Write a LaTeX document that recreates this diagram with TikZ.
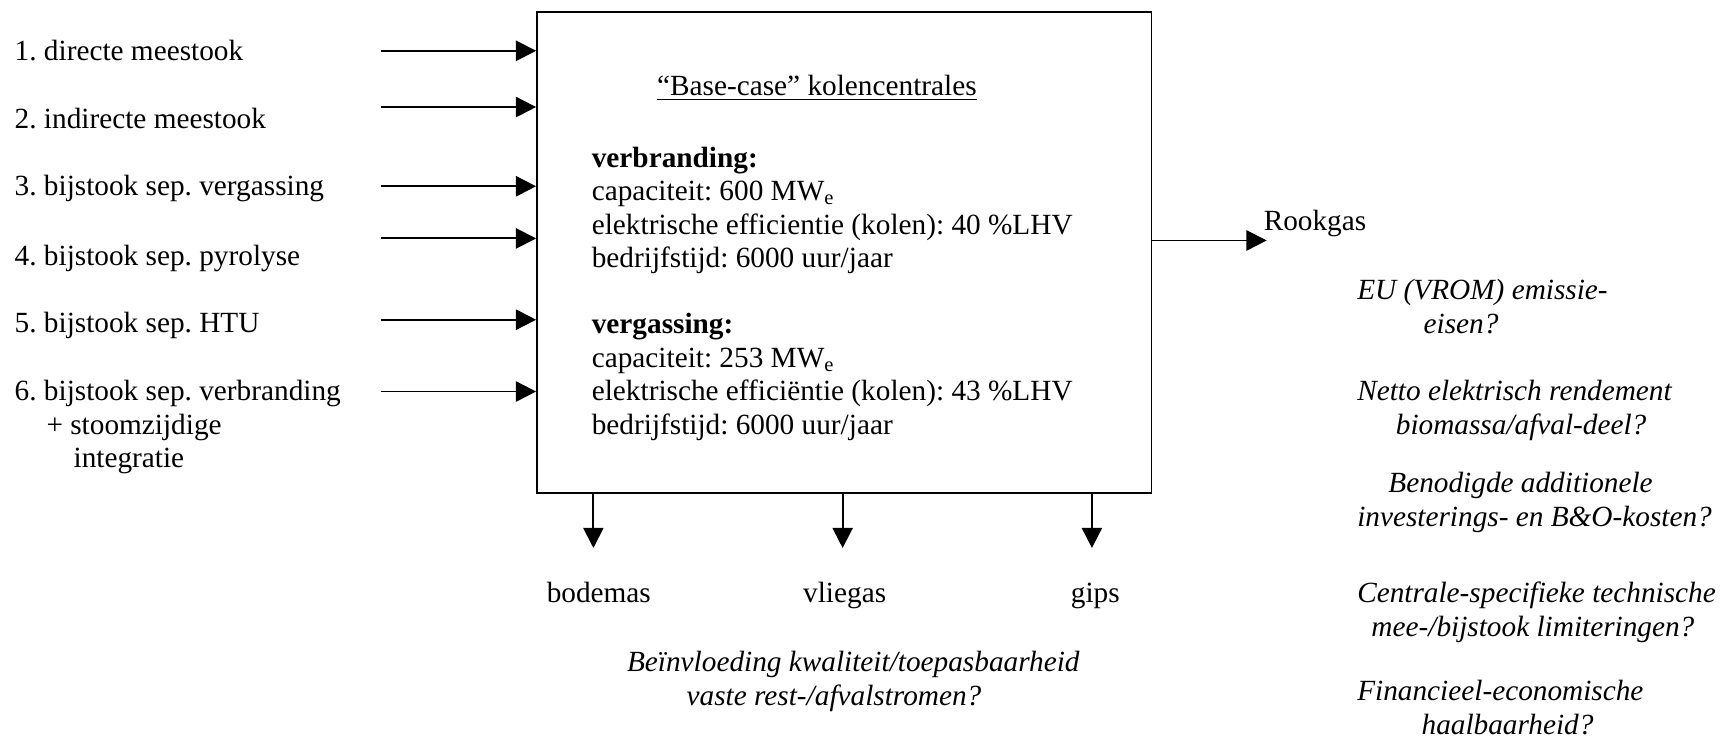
\documentclass[tikz,border=0pt]{standalone}
\usepackage{fontspec}
\setmainfont{Liberation Serif}
\frenchspacing
\usetikzlibrary{arrows.meta}

\begin{document}
\begin{tikzpicture}
\tikzset{tx/.style={inner sep=0pt, font=\fontsize{12.3}{14.1}\selectfont},
  q/.style={inner sep=0pt, align=left, anchor=north west, font=\fontsize{12.3}{14.1}\selectfont\itshape},
  flow/.style={line width=.8pt, -{Triangle[length=8.5pt,width=8.5pt]}}};
\useasboundingbox (0,0) rectangle (25.54,-10.91);
\node [draw, line width=.8pt, minimum width=9.07cm, minimum height=7.10cm, anchor=north west, inner sep=0pt] (plant) at (7.915,-.163) {};
% inputs
\node [tx, anchor=mid west] (f1) at (.21,-.81) {1. directe meestook};
\node [tx, anchor=mid west] (f2) at (.21,-1.82) {2. indirecte meestook};
\node [tx, anchor=mid west] (f3) at (.21,-2.81) {3. bijstook sep. vergassing};
\node [tx, anchor=mid west] (f4) at (.21,-3.84) {4. bijstook sep. pyrolyse};
\node [tx, anchor=mid west] (f5) at (.21,-4.83) {5. bijstook sep. HTU};
\node [tx, align=left, anchor=north west] (f6) at (.21,-5.61) {6. bijstook sep. verbranding\\\hspace*{.47cm}+ stoomzijdige\\\hspace*{.87cm}integratie};
\coordinate (i1) at (5.62,-.75);
\coordinate (i2) at (5.62,-1.58);
\coordinate (i3) at (5.62,-2.75);
\coordinate (i4) at (5.62,-3.52);
\coordinate (i5) at (5.62,-4.72);
\coordinate (i6) at (5.62,-5.78);
\draw [flow] (i1) -- (i1 -| plant.west);
\draw [flow] (i2) -- (i2 -| plant.west);
\draw [flow] (i3) -- (i3 -| plant.west);
\draw [flow] (i4) -- (i4 -| plant.west);
\draw [flow] (i5) -- (i5 -| plant.west);
\draw [flow] (i6) -- (i6 -| plant.west);
% plant
\node [tx] (title) at (12.06,-1.30) {\underline{“Base-case” kolencentrales}};
\node [tx, align=left, anchor=north west] (data) at (8.73,-2.16) {\textbf{verbranding:}\\capaciteit: 600 MW\textsubscript{e}\\elektrische efficientie (kolen): 40 \%LHV\\bedrijfstijd: 6000 uur/jaar\\[13.5pt]\textbf{vergassing:}\\capaciteit: 253 MW\textsubscript{e}\\elektrische efficiëntie (kolen): 43 \%LHV\\bedrijfstijd: 6000 uur/jaar};
% outputs
\node [tx, anchor=mid west] (rook) at (18.65,-3.32) {Rookgas};
\coordinate (rg) at (18.70,-3.55);
\draw [flow] (plant.east |- rg) -- (rg);
\node [tx, anchor=mid] (bod) at (8.84,-8.81) {bodemas};
\node [tx, anchor=mid] (vlg) at (12.47,-8.81) {vliegas};
\node [tx, anchor=mid] (gip) at (16.17,-8.81) {gips};
\coordinate (o1) at (8.76,-8.09);
\coordinate (o2) at (12.44,-8.09);
\coordinate (o3) at (16.12,-8.09);
\draw [flow] (o1 |- plant.south) -- (o1);
\draw [flow] (o2 |- plant.south) -- (o2);
\draw [flow] (o3 |- plant.south) -- (o3);
% questions
\node [q] (q0) at (9.25,-9.61) {Beïnvloeding kwaliteit/toepasbaarheid\\\hspace*{.88cm}vaste rest-/afvalstromen?};
\node [q] (q1) at (20.03,-4.12) {EU (VROM) emissie-\\\hspace*{.98cm}eisen?};
\node [q] (q2) at (20.03,-5.61) {Netto elektrisch rendement\\\hspace*{.57cm}biomassa/afval-deel?};
\node [q] (q3) at (20.03,-6.97) {\hspace*{.46cm}Benodigde additionele\\investerings- en B\&O-kosten?};
\node [q] (q4) at (20.03,-8.59) {Centrale-specifieke technische\\\hspace*{.21cm}mee-/bijstook limiteringen?};
\node [q] (q5) at (20.03,-10.04) {Financieel-economische\\\hspace*{.95cm}haalbaarheid?};
\end{tikzpicture}
\end{document}
